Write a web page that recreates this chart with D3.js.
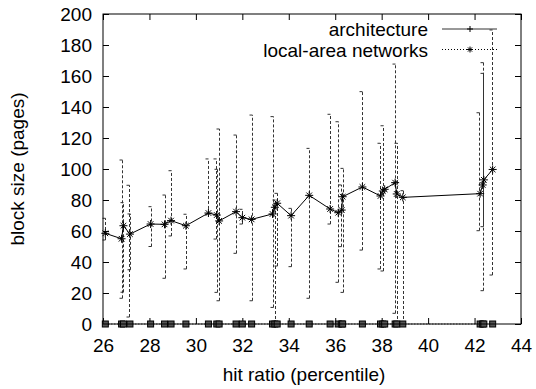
<!DOCTYPE html>
<html>
<head>
<meta charset="utf-8">
<script src="https://cdn.jsdelivr.net/npm/d3@7"></script>
<style>
  body { margin: 0; background: #fff; }
  text { font-family: "Liberation Sans", Arial, sans-serif; fill: #000; }
</style>
</head>
<body>
<div id="chart"></div>
<script>
// x values (hit ratio, percentile)
const hitRatio = [26.1, 26.8, 26.88, 27.16, 28.05, 28.65, 28.93, 29.57, 30.54, 30.9, 31.0, 31.73,
  32.0, 32.4, 33.3, 33.4, 33.5, 34.1, 34.88, 35.78, 36.13, 36.28, 36.32, 37.17, 37.95, 38.05,
  38.13, 38.58, 38.65, 38.91, 42.24, 42.35, 42.4, 42.78];
// architecture: block size (pages)
const architecture = [58.5, 55, 63.4, 58, 64.5, 64.3, 66.7, 63.4, 71.6, 70.3, 66.5, 72.5,
  68.6, 67.5, 71, 75.3, 77.9, 69.9, 83, 74.2, 71.8, 73.5, 82.1, 88.4, 82.6, 85.8,
  86.9, 91.2, 83.9, 81.7, 84.1, 89.7, 93, 99.7];
// local-area networks: block size (pages)
const localArea = hitRatio.map(() => 0);

// dashed error bars
const errX = [26.1, 26.8, 26.88, 27.1, 27.16, 28.05, 28.65, 28.93, 29.57, 30.54, 30.85, 30.9,
  31.0, 31.73, 32.0, 32.4, 33.3, 33.4, 33.5, 34.1, 34.86, 35.78, 36.13, 36.25, 36.32, 37.17,
  37.93, 38.05, 38.58, 38.65, 38.91, 42.2, 42.38, 42.77];
const errLow = [54.2, 16.6, 20.5, 4.5, 35, 50, 29.5, 56.8, 35.5, 71, 54.8, 20.4,
  15, 45.6, 64.5, 15, 10.7, 0, 37.4, 37, 16.6, 64.5, 26.9, 49.9, 20.4, 47.7,
  35.5, 34.2, 6.9, 0, 0, 60.2, 21.5, 31.6];
const errHigh = [68.2, 105.8, 78.3, 89.5, 71, 75.7, 83.2, 98.9, 70.8, 106.5, 106.5, 99.8,
  125.8, 121.9, 74, 134.8, 133.8, 80, 84.3, 74.6, 113.3, 135.3, 130.5, 89.7, 100.4, 149.9,
  116.6, 127.9, 167.7, 116.6, 86, 136.3, 168.6, 189.7];
// solid error bars
const solidErrX = [42.38];
const solidErrLow = [62.8];
const solidErrHigh = [161.7];

const xTicks = [26, 28, 30, 32, 34, 36, 38, 40, 42, 44];
const yTicks = [0, 20, 40, 60, 80, 100, 120, 140, 160, 180, 200];
const seriesNames = ['architecture', 'local-area networks'];

const width = 536, height = 389;
const margin = { top: 14, right: 15, bottom: 65, left: 103 };
const innerWidth = width - margin.left - margin.right;
const innerHeight = height - margin.top - margin.bottom;
const fontSize = 19;

const svg = d3.select('#chart').append('svg')
  .attr('width', width)
  .attr('height', height);

const chart = svg.append('g')
  .attr('transform', `translate(${margin.left},${margin.top})`);

const x = d3.scaleLinear().domain([26, 44]).range([0, innerWidth]);
const y = d3.scaleLinear().domain([0, 200]).range([innerHeight, 0]);

// ticks (inside, on all four sides)
const tickLen = 6;
chart.append('g')
  .attr('transform', `translate(0,${innerHeight})`)
  .call(d3.axisBottom(x).tickValues(xTicks).tickSize(-tickLen).tickPadding(15))
  .call(g => g.select('.domain').remove())
  .call(g => g.selectAll('text').attr('font-size', fontSize));
chart.append('g')
  .call(d3.axisTop(x).tickValues(xTicks).tickSize(-tickLen))
  .call(g => g.select('.domain').remove())
  .call(g => g.selectAll('text').remove());
chart.append('g')
  .call(d3.axisLeft(y).tickValues(yTicks).tickSize(-tickLen).tickPadding(11))
  .call(g => g.select('.domain').remove())
  .call(g => g.selectAll('text').attr('font-size', fontSize));
chart.append('g')
  .attr('transform', `translate(${innerWidth},0)`)
  .call(d3.axisRight(y).tickValues(yTicks).tickSize(-tickLen))
  .call(g => g.select('.domain').remove())
  .call(g => g.selectAll('text').remove());

// error bars
function drawErrBars(xs, lo, hi, dash) {
  const g = chart.append('g')
    .attr('stroke', '#333')
    .attr('stroke-width', 1)
    .attr('fill', 'none');
  xs.forEach((xv, i) => {
    const px = Math.round(x(xv)) + 0.5;
    const y0 = y(lo[i]), y1 = y(hi[i]);
    g.append('line')
      .attr('x1', px).attr('x2', px)
      .attr('y1', y0).attr('y2', y1)
      .attr('stroke-dasharray', dash);
    [y0, y1].forEach(py => {
      g.append('line')
        .attr('x1', px - 3).attr('x2', px)
        .attr('y1', py).attr('y2', py);
    });
  });
}
drawErrBars(errX, errLow, errHigh, '3,2');
drawErrBars(solidErrX, solidErrLow, solidErrHigh, null);

// local-area networks line at 0
chart.append('path')
  .datum(hitRatio.map((d, i) => [d, localArea[i]]))
  .attr('fill', 'none')
  .attr('stroke', '#000')
  .attr('stroke-dasharray', '1,2')
  .attr('d', d3.line().x(d => x(d[0])).y(d => y(d[1])));

chart.append('g').selectAll('rect')
  .data(hitRatio.map((d, i) => [d, localArea[i]]))
  .join('rect')
  .attr('x', d => x(d[0]) - 3)
  .attr('y', d => y(d[1]) - 3)
  .attr('width', 6)
  .attr('height', 6)
  .attr('fill', '#555')
  .attr('stroke', '#000');

// architecture line
chart.append('path')
  .datum(hitRatio.map((d, i) => [d, architecture[i]]))
  .attr('fill', 'none')
  .attr('stroke', '#000')
  .attr('d', d3.line().x(d => x(d[0])).y(d => y(d[1])));

const star = (g, px, py, r) => {
  g.append('path')
    .attr('d', `M${px - r},${py}H${px + r}M${px},${py - r}V${py + r}` +
      `M${px - r * 0.7},${py - r * 0.7}L${px + r * 0.7},${py + r * 0.7}` +
      `M${px - r * 0.7},${py + r * 0.7}L${px + r * 0.7},${py - r * 0.7}`)
    .attr('stroke', '#000')
    .attr('fill', 'none');
};
const marks = chart.append('g');
hitRatio.forEach((d, i) => star(marks, x(d), y(architecture[i]), 4));

// frame
chart.append('rect')
  .attr('width', innerWidth)
  .attr('height', innerHeight)
  .attr('fill', 'none')
  .attr('stroke', '#000');

// legend
const legend = svg.append('g');
const lx0 = 442, lx1 = 497, lmid = 470;
seriesNames.forEach((name, i) => {
  const ly = 29 + i * 20.5;
  legend.append('text')
    .attr('x', 428).attr('y', ly + 7)
    .attr('text-anchor', 'end')
    .attr('font-size', fontSize)
    .text(name);
  legend.append('line')
    .attr('x1', lx0).attr('x2', lx1)
    .attr('y1', ly).attr('y2', ly)
    .attr('stroke', i === 0 ? '#333' : '#000')
    .attr('stroke-dasharray', i === 0 ? null : '1,2');
  if (i === 0) {
    legend.append('path')
      .attr('d', `M${lmid - 3},${ly}H${lmid + 3}M${lmid},${ly - 3}V${ly + 3}`)
      .attr('stroke', '#000');
  } else {
    star(legend, lmid, ly, 3);
  }
});

// axis titles
svg.append('text')
  .attr('x', 304).attr('y', 381)
  .attr('text-anchor', 'middle')
  .attr('font-size', fontSize)
  .text('hit ratio (percentile)');
svg.append('text')
  .attr('transform', `translate(24,${margin.top + innerHeight / 2}) rotate(-90)`)
  .attr('text-anchor', 'middle')
  .attr('font-size', fontSize)
  .text('block size (pages)');
</script>
</body>
</html>
